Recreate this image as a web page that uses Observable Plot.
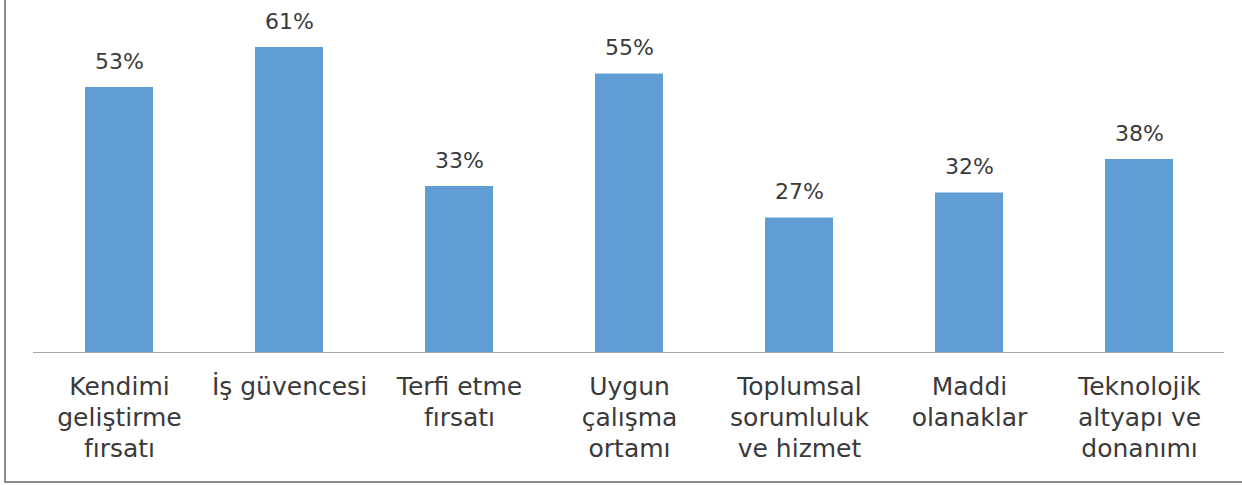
<!DOCTYPE html>
<html>
<head>
<meta charset="utf-8">
<script src="https://cdn.jsdelivr.net/npm/d3@7"></script>
<script src="https://cdn.jsdelivr.net/npm/@observablehq/plot@0.6"></script>
<style>
  html, body { margin: 0; padding: 0; background: #fff; }
  #frame {
    margin-left: 4px;
    width: 1236px;
    height: 481px;
    border-left: 2px solid #8c8c8c;
    border-bottom: 2px solid #8c8c8c;
    overflow: hidden;
  }
</style>
</head>
<body>
<div id="frame"></div>
<script>
const categories = [
  "Kendimi geliştirme fırsatı",
  "İş güvencesi",
  "Terfi etme fırsatı",
  "Uygun çalışma ortamı",
  "Toplumsal sorumluluk ve hizmet",
  "Maddi olanaklar",
  "Teknolojik altyapı ve donanımı"
];
const tickLabels = [
  "Kendimi\ngeliştirme\nfırsatı",
  "İş güvencesi",
  "Terfi etme\nfırsatı",
  "Uygun\nçalışma\nortamı",
  "Toplumsal\nsorumluluk\nve hizmet",
  "Maddi\nolanaklar",
  "Teknolojik\naltyapı ve\ndonanımı"
];
// bar heights
const values = [53, 61, 33.2, 55.7, 26.9, 31.9, 38.6];
// data labels as printed on the picture
const valueLabels = ["53%", "61%", "33%", "55%", "27%", "32%", "38%"];

const data = categories.map((c, i) => ({category: c, value: values[i], label: valueLabels[i]}));
const labelOf = new Map(categories.map((c, i) => [c, tickLabels[i]]));

const chart = Plot.plot({
  width: 1236,
  height: 481,
  marginLeft: 27,
  marginRight: 18,
  marginTop: 2,
  marginBottom: 129,
  style: {fontFamily: "DejaVu Sans", color: "#404040", background: "#fff"},
  x: {domain: categories, paddingInner: 0.6, paddingOuter: 0.3, label: null},
  y: {domain: [0, 70], axis: null},
  marks: [
    Plot.barY(data, {x: "category", y: "value", fill: "#5f9dd3"}),
    Plot.ruleY([0], {stroke: "#a6a6a6", strokeWidth: 1.2}),
    Plot.text(data, {
      x: "category", y: "value",
      text: "label",
      dy: -19, lineAnchor: "bottom",
      fontSize: 22, fill: "#3a3a3a"
    }),
    Plot.axisX({
      tickSize: 0, tickPadding: 20,
      tickFormat: d => labelOf.get(d),
      fontSize: 25, lineHeight: 1.24,
      fill: "#3a3a3a", label: null
    })
  ]
});
document.getElementById("frame").appendChild(chart);
</script>
</body>
</html>
